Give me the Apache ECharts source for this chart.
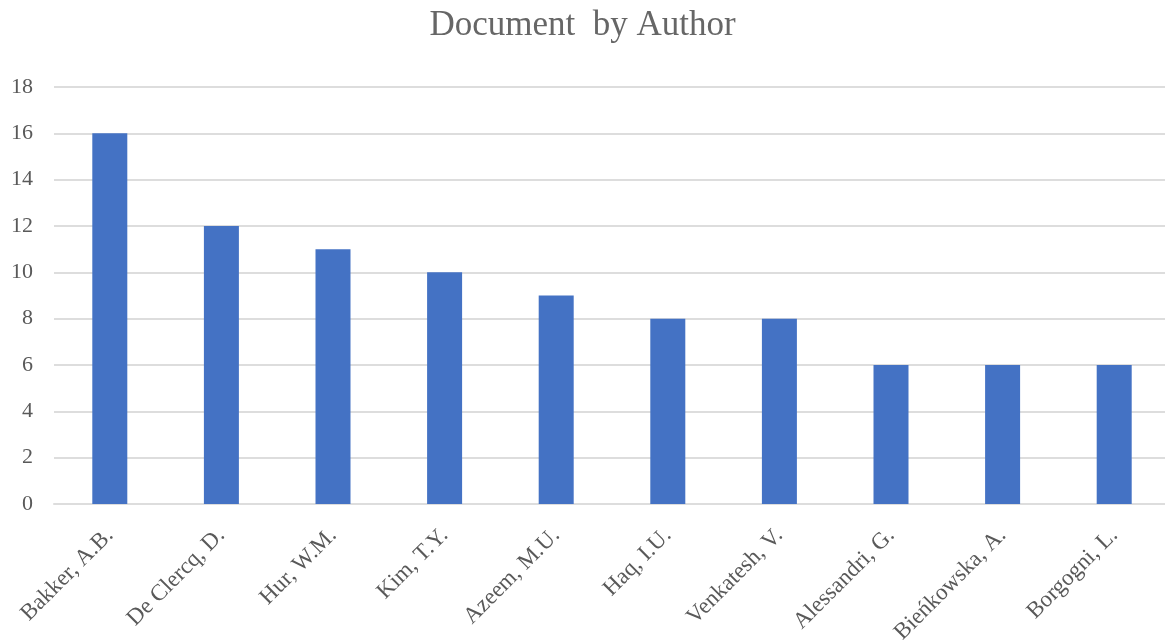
<!DOCTYPE html>
<html>
<head>
<meta charset="utf-8">
<script src="https://cdn.jsdelivr.net/npm/echarts@6/dist/echarts.min.js"></script>
<style>
html,body{margin:0;padding:0;background:#fff;}
#chart{width:1165px;height:644px;}
</style>
</head>
<body>
<div id="chart"></div>
<script>
const authors = ['Bakker, A.B.', 'De Clercq, D.', 'Hur, W.M.', 'Kim, T.Y.', 'Azeem, M.U.', 'Haq, I.U.', 'Venkatesh, V.', 'Alessandri, G.', 'Bieńkowska, A.', 'Borgogni, L.'];
const documents = [16, 12, 11, 10, 9, 8, 8, 6, 6, 6];
const yTicks = [0, 2, 4, 6, 8, 10, 12, 14, 16, 18];

const font = '"Liberation Serif", "Times New Roman", serif';
const chart = echarts.init(document.getElementById('chart'), null, {renderer: 'canvas'});
chart.setOption({
  animation: false,
  title: {
    text: 'Document  by Author',
    left: 'center',
    top: 3,
    textStyle: {fontFamily: font, fontSize: 35, fontWeight: 'normal', color: '#666666'}
  },
  grid: {left: 54, right: -5, top: 87, bottom: 140, containLabel: false, outerBoundsMode: 'none'},
  xAxis: {
    type: 'category',
    data: authors,
    axisLine: {show: true, lineStyle: {color: '#DDDDDD', width: 2}},
    axisTick: {show: false},
    axisLabel: {rotate: 45, interval: 0, margin: 28, fontFamily: font, fontSize: 23, color: '#595959'}
  },
  yAxis: {
    type: 'value',
    min: yTicks[0],
    max: yTicks[yTicks.length - 1],
    interval: 2,
    axisLine: {show: false},
    axisTick: {show: false},
    splitLine: {lineStyle: {color: '#DDDDDD', width: 2}},
    axisLabel: {margin: 21, fontFamily: font, fontSize: 22, color: '#595959'}
  },
  series: [{
    type: 'bar',
    data: documents,
    barWidth: 35,
    itemStyle: {color: '#4472C4'}
  }]
});
</script>
</body>
</html>
